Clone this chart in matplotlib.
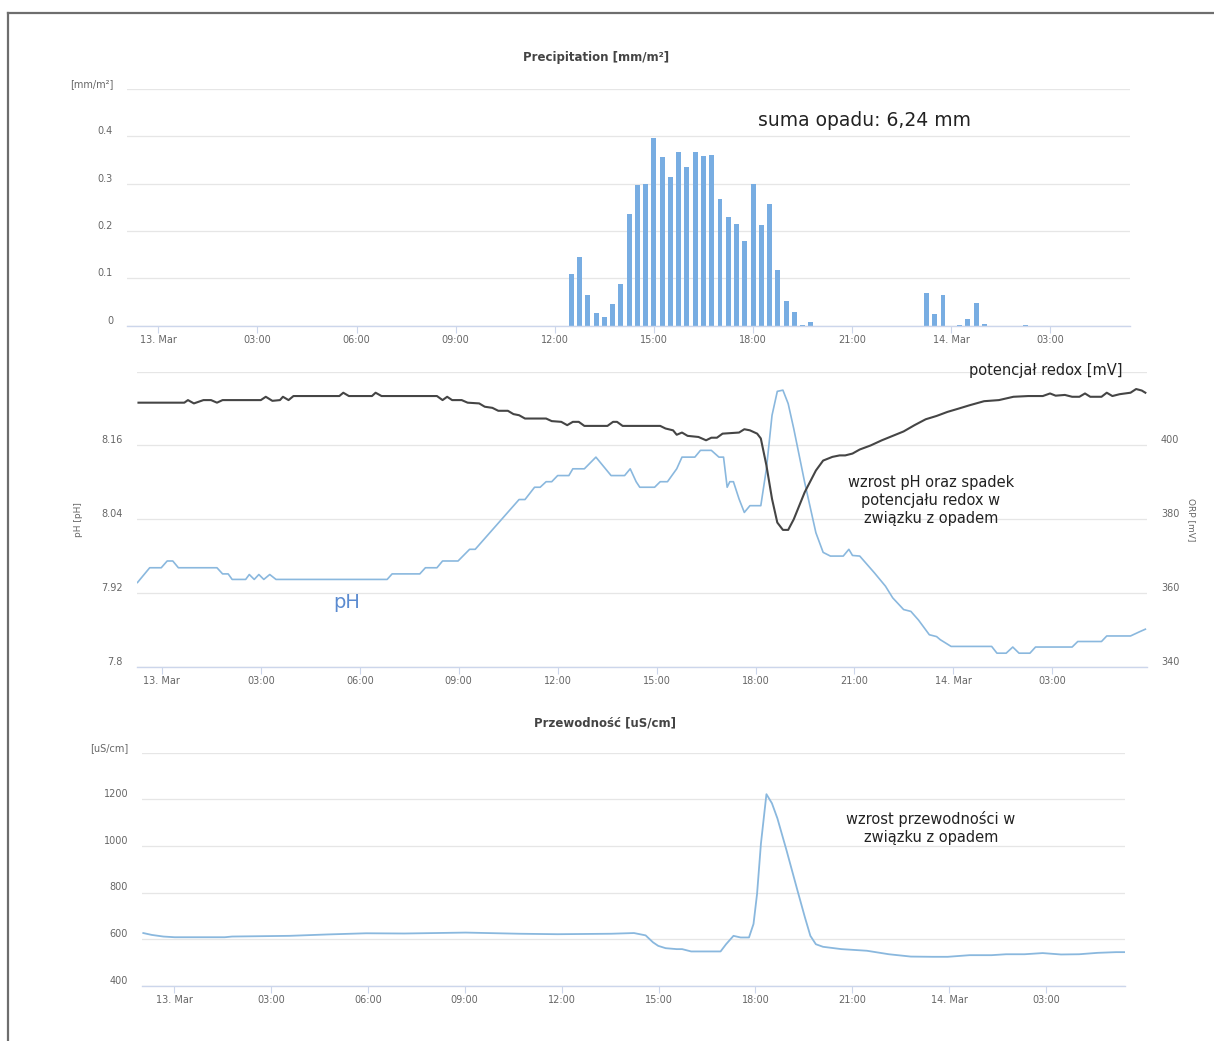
import matplotlib
matplotlib.use('Agg')
import matplotlib.pyplot as plt
from matplotlib.lines import Line2D

# ---------------- data (hours from 13 Mar 00:00) ----------------
tick_hours = [0, 3, 6, 9, 12, 15, 18, 21, 24, 27]
tick_labels = ['13. Mar', '03:00', '06:00', '09:00', '12:00', '15:00',
               '18:00', '21:00', '14. Mar', '03:00']

precip_t = [12.5, 12.75, 13.0, 13.25, 13.5, 13.75, 14.0, 14.25, 14.5, 14.75,
            15.0, 15.25, 15.5, 15.75, 16.0, 16.25, 16.5, 16.75, 17.0, 17.25,
            17.5, 17.75, 18.0, 18.25, 18.5, 18.75, 19.0, 19.25, 19.5, 19.75,
            23.25, 23.5, 23.75, 24.25, 24.5, 24.75, 25.0, 26.25]
precip_v = [0.11, 0.145, 0.065, 0.026, 0.019, 0.045, 0.088, 0.235, 0.298, 0.30,
            0.397, 0.356, 0.315, 0.366, 0.335, 0.366, 0.359, 0.36, 0.267, 0.229,
            0.215, 0.178, 0.30, 0.213, 0.257, 0.118, 0.053, 0.029, 0.002, 0.007,
            0.07, 0.025, 0.065, 0.002, 0.014, 0.048, 0.003, 0.001]

redox_t = [-0.71, 0.68, 0.79, 0.97, 1.26, 1.49, 1.67, 1.84, 3.0, 3.15, 3.35, 3.58,
           3.67, 3.84, 3.99, 5.38, 5.5, 5.67, 6.37, 6.48, 6.66, 8.34, 8.51, 8.65,
           8.8, 9.09, 9.27, 9.62, 9.79, 10.02, 10.2, 10.49, 10.66, 10.83, 11.01,
           11.65, 11.82, 12.11, 12.29, 12.46, 12.64, 12.81, 13.51, 13.68, 13.8,
           13.97, 15.11, 15.27, 15.5, 15.61, 15.77, 15.94, 16.27, 16.5, 16.66,
           16.83, 17.0, 17.5, 17.66, 17.83, 18.05, 18.16, 18.33, 18.5, 18.66,
           18.83, 18.99, 19.16, 19.49, 19.83, 20.05, 20.33, 20.55, 20.72, 20.94,
           21.16, 21.49, 21.83, 22.16, 22.49, 22.82, 23.16, 23.49, 23.82, 24.16,
           24.49, 24.93, 25.38, 25.82, 26.27, 26.71, 26.93, 27.1, 27.38, 27.6,
           27.82, 27.99, 28.15, 28.49, 28.65, 28.82, 29.04, 29.37, 29.54, 29.71,
           29.82]
redox_v = [411.6, 411.6, 412.3, 411.4, 412.3, 412.3, 411.6, 412.3, 412.3, 413.2,
           412.1, 412.3, 413.2, 412.3, 413.4, 413.4, 414.3, 413.4, 413.4, 414.3,
           413.4, 413.4, 412.3, 413.2, 412.3, 412.3, 411.6, 411.4, 410.5, 410.2,
           409.4, 409.4, 408.5, 408.2, 407.3, 407.3, 406.6, 406.4, 405.5, 406.4,
           406.4, 405.3, 405.3, 406.4, 406.4, 405.3, 405.3, 404.6, 404.1, 402.9,
           403.5, 402.6, 402.3, 401.4, 402.1, 402.1, 403.2, 403.5, 404.4, 404.1,
           403.2, 401.9, 394.6, 385.5, 379.1, 377.1, 377.1, 380.0, 387.3, 393.2,
           395.9, 396.9, 397.3, 397.3, 397.8, 398.9, 400.0, 401.4, 402.6, 403.8,
           405.5, 407.1, 408.0, 409.1, 410.0, 410.9, 412.0, 412.3, 413.2, 413.4,
           413.4, 414.1, 413.5, 413.7, 413.2, 413.2, 414.1, 413.2, 413.2, 414.3,
           413.4, 413.9, 414.3, 415.3, 414.9, 414.3]

ph_t = [-0.74, -0.37, -0.02, 0.16, 0.33, 0.5, 1.67, 1.84, 2.01, 2.13, 2.54, 2.65,
        2.8, 2.94, 3.09, 3.27, 3.46, 6.83, 6.98, 7.82, 7.99, 8.34, 8.51, 8.98,
        9.33, 9.5, 10.83, 11.01, 11.3, 11.47, 11.65, 11.82, 12.0, 12.34, 12.46,
        12.81, 13.16, 13.62, 14.03, 14.2, 14.38, 14.49, 14.94, 15.11, 15.33,
        15.61, 15.77, 16.16, 16.33, 16.66, 16.89, 17.03, 17.14, 17.22, 17.33,
        17.5, 17.66, 17.83, 18.16, 18.33, 18.5, 18.66, 18.83, 18.99, 19.16,
        19.49, 19.83, 20.05, 20.27, 20.66, 20.83, 20.94, 21.16, 21.6, 21.94,
        22.16, 22.49, 22.71, 22.94, 23.27, 23.49, 23.6, 23.93, 25.16, 25.32,
        25.6, 25.8, 25.99, 26.32, 26.49, 27.6, 27.77, 28.49, 28.65, 29.37,
        29.65, 29.82]
ph_v = [7.937, 7.961, 7.961, 7.972, 7.972, 7.961, 7.961, 7.951, 7.951, 7.942,
        7.942, 7.950, 7.942, 7.950, 7.942, 7.950, 7.942, 7.942, 7.951, 7.951,
        7.961, 7.961, 7.972, 7.972, 7.991, 7.991, 8.072, 8.072, 8.092, 8.092,
        8.101, 8.101, 8.111, 8.111, 8.122, 8.122, 8.141, 8.111, 8.111, 8.122,
        8.101, 8.092, 8.092, 8.101, 8.101, 8.122, 8.141, 8.141, 8.152, 8.152,
        8.141, 8.141, 8.092, 8.101, 8.101, 8.073, 8.051, 8.062, 8.062, 8.122,
        8.209, 8.248, 8.250, 8.228, 8.187, 8.100, 8.018, 7.986, 7.980, 7.980,
        7.991, 7.981, 7.980, 7.953, 7.931, 7.912, 7.893, 7.890, 7.876, 7.852,
        7.849, 7.844, 7.833, 7.833, 7.822, 7.822, 7.832, 7.822, 7.822, 7.832,
        7.832, 7.841, 7.841, 7.850, 7.850, 7.857, 7.861]

cond_t = [-0.95, -0.69, -0.33, 0.02, 1.57, 1.8, 3.58, 4.76, 5.95, 7.13, 9.03,
          10.69, 11.87, 13.53, 14.24, 14.6, 14.83, 14.99, 15.22, 15.56, 15.73,
          16.01, 16.92, 17.09, 17.32, 17.54, 17.8, 17.94, 18.05, 18.17, 18.34,
          18.51, 18.68, 18.96, 19.3, 19.53, 19.7, 19.87, 20.09, 20.66, 21.45,
          22.13, 22.81, 23.49, 23.95, 24.63, 25.31, 25.76, 26.33, 26.89, 27.46,
          28.02, 28.59, 29.16, 29.44]
cond_v = [626, 618, 611, 608, 608, 611, 614, 620, 625, 624, 628, 623, 621, 623,
          626, 616, 586, 571, 561, 557, 557, 547, 547, 578, 614, 607, 607, 665,
          794, 1010, 1222, 1183, 1118, 982, 809, 694, 614, 578, 567, 557, 550,
          535, 525, 524, 524, 531, 531, 535, 535, 540, 534, 535, 541, 544, 544]

# ---------------- layout ----------------
W, H = 1214, 1041
fig = plt.figure(figsize=(W / 100, H / 100), dpi=100)
fig.patch.set_facecolor('white')


def rect(x0, y0, x1, y1):
    return [x0 / W, 1 - y1 / H, (x1 - x0) / W, (y1 - y0) / H]


def fxy(x, y):
    return x / W, 1 - y / H


GRID = '#e6e6e6'
AXIS = '#ccd6eb'
LBL = '#666666'


def style(ax, xlim):
    ax.set_xlim(*xlim)
    for s in ['left', 'right', 'top']:
        ax.spines[s].set_visible(False)
    ax.spines['bottom'].set_color(AXIS)
    ax.spines['bottom'].set_linewidth(1.0)
    ax.set_xticks(tick_hours)
    ax.set_xticklabels(tick_labels)
    ax.tick_params(axis='x', length=5, width=0.8, color=AXIS, labelsize=7,
                   labelcolor=LBL, pad=2)
    ax.tick_params(axis='y', length=0, labelsize=7, labelcolor=LBL, pad=10)
    ax.grid(axis='y', color=GRID, lw=0.9)
    ax.grid(axis='x', visible=False)
    ax.set_axisbelow(True)
    ax.set_facecolor('none')


# --- top: precipitation ---
ax1 = fig.add_axes(rect(127, 89, 1130, 325.7))
ax1.bar(precip_t, precip_v, width=0.15, color='#78ade2', align='center', zorder=2)
style(ax1, (-0.95, 29.41))
ax1.set_ylim(0, 0.5)
ax1.set_yticks([0, 0.1, 0.2, 0.3, 0.4, 0.5])
ax1.set_yticklabels(['0', '0.1', '0.2', '0.3', '0.4', '[mm/m²]'], va='bottom')
fig.text(*fxy(596, 58), 'Precipitation [mm/m²]', ha='center', va='center',
         fontsize=8.5, fontweight='bold', color='#444444')
fig.text(*fxy(864, 121), 'suma opadu: 6,24 mm', ha='center', va='center',
         fontsize=13.5, color='#222222')

# --- middle: pH & redox ---
ax2 = fig.add_axes(rect(136.5, 371.7, 1147, 666.7))
ax2.plot(ph_t, ph_v, color='#8ab8de', lw=1.2, zorder=3)
style(ax2, (-0.77, 29.87))
ax2.set_ylim(7.8, 8.28)
ax2.set_yticks([7.8, 7.92, 8.04, 8.16, 8.28])
ax2.set_yticklabels(['7.8', '7.92', '8.04', '8.16', ''], va='bottom')
ax2.set_ylabel('pH [pH]', fontsize=6.5, color=LBL)
ax2.yaxis.set_label_coords(-0.053, 0.5)

ax2r = ax2.twinx()
ax2r.plot(redox_t, redox_v, color='#454545', lw=1.5, zorder=4)
ax2r.set_xlim(-0.77, 29.87)
ax2r.set_ylim(340, 420)
ax2r.set_yticks([340, 360, 380, 400, 420])
ax2r.set_yticklabels(['340', '360', '380', '400', ''], va='bottom')
for s in ['left', 'right', 'top', 'bottom']:
    ax2r.spines[s].set_visible(False)
ax2r.tick_params(axis='y', length=0, labelsize=7, labelcolor=LBL, pad=10)
ax2r.set_ylabel('ORP [mV]', fontsize=6.5, color=LBL, rotation=270)
ax2r.yaxis.set_label_coords(1.0485, 0.5)

fig.text(*fxy(347, 602), 'pH', ha='center', va='center', fontsize=14,
         color='#5b8bd0')
fig.text(*fxy(1046, 371), 'potencjał redox [mV]', ha='center', va='center',
         fontsize=10.5, color='#222222')
fig.text(*fxy(931, 500), 'wzrost pH oraz spadek\npotencjału redox w\nzwiązku z opadem',
         ha='center', va='center', fontsize=10.5, color='#222222', linespacing=1.25)

# --- bottom: conductivity ---
ax3 = fig.add_axes(rect(142, 752.7, 1125, 985.7))
ax3.plot(cond_t, cond_v, color='#8ab8de', lw=1.3, zorder=3)
style(ax3, (-0.99, 29.44))
ax3.set_ylim(400, 1400)
ax3.set_yticks([400, 600, 800, 1000, 1200, 1400])
ax3.set_yticklabels(['400', '600', '800', '1000', '1200', '[uS/cm]'], va='bottom')
fig.text(*fxy(605, 723), 'Przewodność [uS/cm]', ha='center', va='center',
         fontsize=8.5, fontweight='bold', color='#444444')
fig.text(*fxy(931, 828), 'wzrost przewodności w\nzwiązku z opadem',
         ha='center', va='center', fontsize=10.5, color='#222222', linespacing=1.25)

# --- screenshot frame ---
fig.add_artist(Line2D([7.5 / W, 7.5 / W], [1 - 13 / H, 0], color='#6e6e6e', lw=1.6,
                      transform=fig.transFigure))
fig.add_artist(Line2D([7.5 / W, 1], [1 - 13 / H, 1 - 13 / H], color='#6e6e6e', lw=1.6,
                      transform=fig.transFigure))

fig.savefig('out.png', dpi=100, facecolor='white')
